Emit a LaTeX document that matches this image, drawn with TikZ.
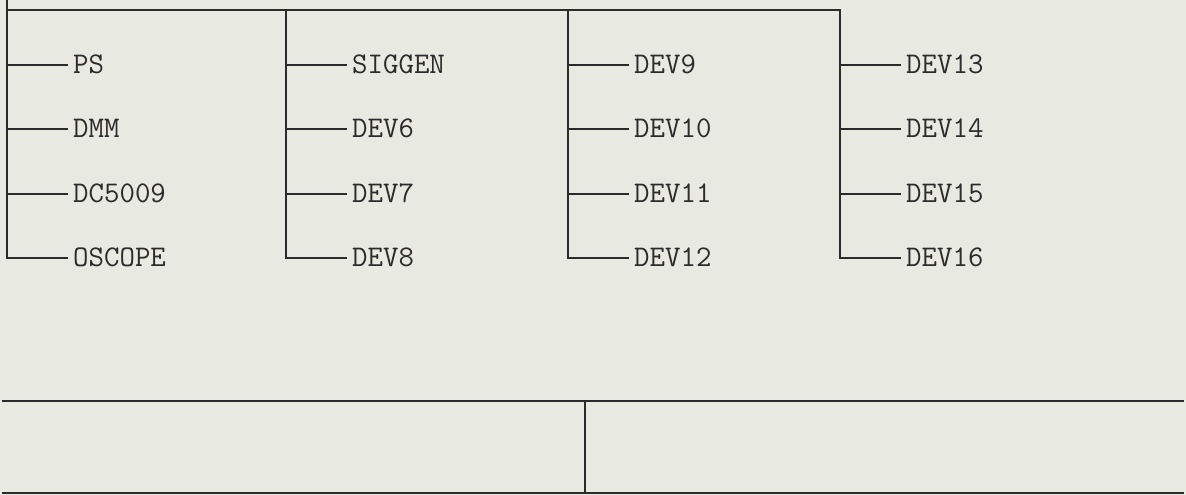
\documentclass[tikz,border=0pt]{standalone}
\usepackage{fontspec}
\definecolor{bgc}{RGB}{232,233,225}
\definecolor{linec}{RGB}{45,42,42}
\begin{document}
\begin{tikzpicture}[x=1pt,y=-1pt,
  wire/.style={draw=linec, line width=1.8pt, line cap=rect},
  lbl/.style={anchor=base west, inner sep=0pt, text=linec,
    font=\ttfamily\fontsize{30}{30}\selectfont}]
\fill[bgc] (0,0) rectangle (1186,495);
\useasboundingbox (0,0) rectangle (1186,495);
% column tops and bottoms
\coordinate (top0) at (7,0);
\coordinate (t1) at (7,10);
\coordinate (t2) at (286,10);
\coordinate (t3) at (568,10);
\coordinate (t4) at (840,10);
\coordinate (b1) at (7,258);
\coordinate (b2) at (286,258);
\coordinate (b3) at (568,258);
\coordinate (b4) at (840,258);
% labels
\foreach \col/\x/\names in {1/7/{PS,DMM,DC5009,OSCOPE},
                            2/286/{SIGGEN,DEV6,DEV7,DEV8},
                            3/568/{DEV9,DEV10,DEV11,DEV12},
                            4/840/{DEV13,DEV14,DEV15,DEV16}}{
  \foreach \nm [count=\r] in \names {
    \pgfmathsetmacro{\yy}{65+64.3*(\r-1)}
    \coordinate (j\col\r) at (\x,\yy);
    \node[lbl] (n\col\r) at (\x+66,\yy+8.5) {\nm};
    \draw[wire, shorten >=6pt] (j\col\r) -- (j\col\r -| n\col\r.west);
  }
}
% frame lines
\draw[wire] (top0) -- (b1);
\draw[wire] (t1) -- (t4);
\draw[wire] (t2) -- (b2);
\draw[wire] (t3) -- (b3);
\draw[wire] (t4) -- (b4);
% bottom box
\coordinate (h1) at (3,401);
\coordinate (h2) at (1183,401);
\coordinate (v1) at (585,401);
\coordinate (v2) at (585,493);
\coordinate (g1) at (3,493);
\coordinate (g2) at (1183,493);
\draw[wire] (h1) -- (h2);
\draw[wire] (v1) -- (v2);
\draw[wire] (g1) -- (g2);
\end{tikzpicture}
\end{document}
